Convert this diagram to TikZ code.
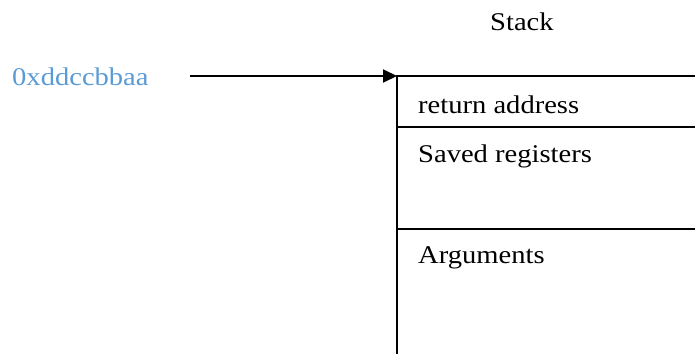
\documentclass[tikz,border=0pt]{standalone}
\usepackage{fontspec}
\setmainfont[FakeStretch=1.12]{Liberation Serif}
\usetikzlibrary{positioning,arrows.meta}
\definecolor{addrblue}{RGB}{91,155,213}

\tikzstyle{celltext} = [anchor=base west,inner sep=0pt,font=\fontsize{25.5}{30}\selectfont]
\tikzstyle{stackline} = [draw,line width=2.6pt]
\tikzstyle{arrowdecorate} = [-{Triangle[length=14pt,width=13pt]},line width=2pt]

\begin{document}
\begin{tikzpicture}[x=1pt,y=-1pt]
      \useasboundingbox (0,0) rectangle (695,354);
      %labels
      \node[celltext] (stack) at (490,30) {Stack};
      \node[celltext,text=addrblue] (addr) at (12,85) {0xddccbbaa};
      \foreach \nodename/\y/\value in {
        ret/113/return address,
        saved/162/Saved registers,
        args/263/Arguments}
      {
        \node[celltext] (\nodename) at (418,\y) {\value};
      };
      %stack frame
      \coordinate (top) at (397,76);
      \coordinate (tail) at (190,76);
      \draw[stackline] (695,76) -- (top) -- (397,354);
      \foreach \y in {127,229}
      {
        \draw[stackline] (397,\y) -- (695,\y);
      };
      %pointer
      \draw[arrowdecorate] (tail) -- (top);
\end{tikzpicture}
\end{document}
